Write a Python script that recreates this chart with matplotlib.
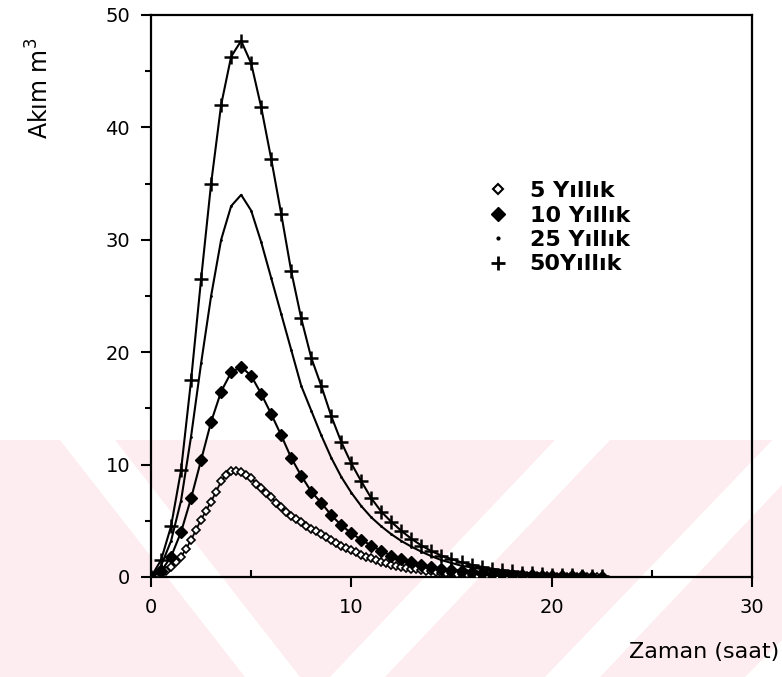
import numpy as np
import matplotlib
matplotlib.use("Agg")
import matplotlib.pyplot as plt
from matplotlib.lines import Line2D
from matplotlib.patches import Polygon

# Datos (caudal vs tiempo)
saat = np.arange(0, 22.51, 0.5)
saat_5 = np.arange(0, 22.51, 0.25)

yillik_5 = [0, 0.1, 0.3, 0.55, 0.9, 1.3, 1.8, 2.5, 3.3, 4.2, 5.1, 5.9, 6.7, 7.6, 8.5, 9.1,
            9.4, 9.4, 9.3, 9.1, 8.8, 8.3, 7.9, 7.5, 7.1, 6.6, 6.2, 5.8, 5.45, 5.15, 4.85, 4.55,
            4.3, 4.05, 3.8, 3.55, 3.3, 3.05, 2.8, 2.6, 2.4, 2.2, 2.0, 1.82, 1.65, 1.5, 1.35, 1.22,
            1.1, 1.0, 0.9, 0.82, 0.75, 0.67, 0.6, 0.55, 0.5, 0.45, 0.4, 0.36, 0.33, 0.3, 0.27, 0.24,
            0.22, 0.2, 0.18, 0.16, 0.15, 0.13, 0.12, 0.11, 0.1, 0.09, 0.08, 0.07, 0.065, 0.06, 0.05,
            0.045, 0.04, 0.036, 0.032, 0.029, 0.026, 0.023, 0.02, 0.018, 0.016, 0.014, 0.012]

yillik_10 = [0, 0.5, 1.8, 4.0, 7.0, 10.4, 13.8, 16.5, 18.2, 18.7, 17.9, 16.3, 14.5, 12.6, 10.6,
             9.0, 7.6, 6.6, 5.5, 4.6, 3.9, 3.3, 2.8, 2.3, 1.9, 1.6, 1.35, 1.1, 0.9, 0.75, 0.62,
             0.52, 0.43, 0.36, 0.3, 0.25, 0.2, 0.17, 0.14, 0.11, 0.09, 0.075, 0.06, 0.05, 0.04, 0.03]

yillik_25 = [0, 1.0, 3.2, 6.8, 12.5, 19.0, 25.0, 30.0, 33.0, 34.0, 32.6, 29.8, 26.6, 23.4, 20.2,
             17.0, 14.8, 12.6, 10.6, 8.9, 7.5, 6.3, 5.3, 4.5, 3.8, 3.2, 2.7, 2.25, 1.85, 1.5, 1.25,
             1.0, 0.85, 0.7, 0.57, 0.47, 0.38, 0.31, 0.25, 0.2, 0.16, 0.13, 0.1, 0.08, 0.06, 0.05]

yillik_50 = [0, 1.5, 4.5, 9.5, 17.5, 26.5, 35.0, 42.0, 46.3, 47.7, 45.7, 41.8, 37.2, 32.3, 27.2,
             23.0, 19.5, 17.0, 14.3, 12.0, 10.1, 8.5, 7.0, 5.8, 4.9, 4.1, 3.4, 2.8, 2.3, 1.9, 1.6,
             1.3, 1.1, 0.9, 0.75, 0.6, 0.5, 0.4, 0.33, 0.27, 0.22, 0.18, 0.15, 0.12, 0.1, 0.08]

etiketler = ["5 Yıllık", "10 Yıllık", "25 Yıllık", "50Yıllık"]

fig = plt.figure(figsize=(7.82, 6.77), dpi=100)

# marca de agua rosa al fondo (coordenadas en pixeles)
W, H = 782, 677
pembe = "#fdedf0"
def poly(pts, color):
    fig.patches.append(Polygon([(x / W, 1 - y / H) for x, y in pts], closed=True,
                               transform=fig.transFigure, facecolor=color,
                               edgecolor="none", zorder=-5))

poly([(0, 440), (782, 440), (782, 677), (0, 677)], pembe)
poly([(60, 440), (115, 440), (300, 677), (245, 677)], "white")
poly([(330, 677), (385, 677), (610, 440), (555, 440)], "white")
poly([(545, 677), (600, 677), (782, 485), (782, 430)], "white")
poly([(745, 677), (782, 677), (782, 640)], "white")

ax = fig.add_axes([151 / W, 1 - 577 / H, 601 / W, 562 / H])
ax.set_facecolor("none")
ax.set_zorder(2)

ax.plot(saat_5, yillik_5, color="black", lw=1.3, marker="D", ms=4, mfc="white",
        mec="black", mew=1.2, zorder=3)
ax.plot(saat, yillik_10, color="black", lw=1.5, marker="D", ms=6.5, mfc="black",
        mec="black", zorder=3)
ax.plot(saat, yillik_25, color="black", lw=1.5, marker=".", ms=2, zorder=3)
ax.plot(saat, yillik_50, color="black", lw=1.5, marker="+", ms=10, mew=1.8, zorder=3)

ax.set_xlim(0, 30)
ax.set_ylim(0, 50)
ax.set_xticks([0, 10, 20, 30])
ax.set_xticks([5, 15, 25], minor=True)
ax.set_yticks([0, 10, 20, 30, 40, 50])
ax.set_yticks([5, 15, 25, 35, 45], minor=True)
ax.tick_params(axis="both", which="major", direction="out", length=7, width=1.5,
               labelsize=14, pad=8)
ax.tick_params(axis="x", which="minor", direction="in", length=5, width=1.5)
ax.tick_params(axis="y", which="minor", direction="out", length=4, width=1.5)
for s in ax.spines.values():
    s.set_linewidth(1.6)

handles = [
    Line2D([], [], ls="none", marker="D", ms=5, mfc="white", mec="black", mew=1.5),
    Line2D([], [], ls="none", marker="D", ms=7, mfc="black", mec="black"),
    Line2D([], [], ls="none", marker=".", ms=4, color="black"),
    Line2D([], [], ls="none", marker="+", ms=10, mew=2, color="black"),
]
ax.legend(handles, etiketler, loc="upper left", bbox_to_anchor=(0.53, 0.74),
          frameon=False, handlelength=0.8, handletextpad=1.0, labelspacing=0.2,
          prop={"weight": "bold", "size": 16})

fig.text(40 / W, 1 - 88 / H, "Akım m$^3$", rotation=90, ha="center", va="center",
         fontsize=17)
fig.text(0.997, 1 - 652 / H, "Zaman (saat)", ha="right", va="center", fontsize=16)

fig.savefig("out.png", dpi=100)
